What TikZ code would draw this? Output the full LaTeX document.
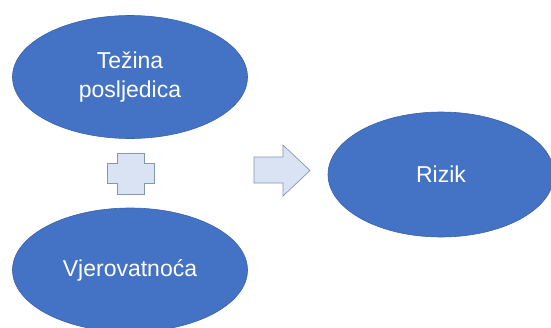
\documentclass[tikz,border=0pt]{standalone}
\usepackage{fontspec}
\setmainfont{Liberation Sans}
\usetikzlibrary{shapes.geometric,shapes.arrows}
\definecolor{ellblue}{HTML}{4472C4}
\definecolor{ellline}{HTML}{3A62AA}
\definecolor{lightfill}{HTML}{DAE3F3}
\definecolor{lightline}{HTML}{8497B0}
\tikzset{
  blob/.style={ellipse, fill=ellblue, draw=ellline, line width=0.6pt, text=white,
    font=\fontsize{23}{29.5}\selectfont, align=center, inner sep=0pt},
  lightshape/.style={fill=lightfill, draw=lightline, line width=0.7pt, line join=miter}
}
\begin{document}
\begin{tikzpicture}[x=1pt,y=-1pt]
\useasboundingbox[fill=white] (0,0) rectangle (551,327);
\node[blob, minimum width=235pt, minimum height=123pt] (tez) at (130,77) {Težina\\posljedica};
\node[blob, minimum width=235pt, minimum height=124pt] (vje) at (130,270) {Vjerovatnoća};
\node[blob, minimum width=226pt, minimum height=125pt] (riz) at (441,174.5) {Rizik};
% plus sign
\coordinate (plus) at (130.5,173.5);
\draw[lightshape] (117,153) -- (144,153) -- (144,163) -- (154,163) -- (154,183) -- (144,183)
  -- (144,194) -- (117,194) -- (117,183) -- (107,183) -- (107,163) -- (117,163) -- cycle;
% arrow
\coordinate (arr) at (282,170.5);
\draw[lightshape] (254,157) -- (283,157) -- (283,145) -- (310,170.5) -- (283,196) -- (283,183) -- (254,183) -- cycle;
\end{tikzpicture}
\end{document}
